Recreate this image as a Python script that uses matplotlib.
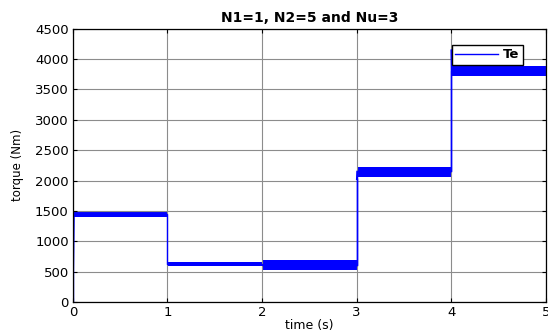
import numpy as np
import matplotlib
matplotlib.use('Agg')
import matplotlib.pyplot as plt

# Electromagnetic torque Te for a sequence of load steps
#------------------------------------------------------------------------------
seg_start = [0.0, 1.0, 2.0, 3.0, 4.0]
seg_end   = [1.0, 2.0, 3.0, 4.0, 5.0]
te_level  = [1450, 620, 605, 2150, 3810]     # mean torque on each step (Nm)
te_low    = [1405, 590, 525, 2060, 3720]     # lower edge of the ripple band
te_high   = [1480, 650, 690, 2230, 3890]     # upper edge of the ripple band

# transients at the switching instants (time, torque)
trans_t  = [0.0, 0.0, 0.012, 3.0, 3.004, 4.0, 4.004]
trans_te = [0, 0, 1420, 2020, 2150, 4150, 3810]
#------------------------------------------------------------------------------

plt.rcParams['font.family'] = ['DejaVu Sans']
fig = plt.figure(figsize=(5.48, 3.31), dpi=100)
ax = fig.add_axes([0.133, 0.088, 0.863, 0.825])

blue = (0, 0, 1)

# step trace through the mean levels
t_line = []
v_line = []
for i in range(len(seg_start)):
    t_line += [seg_start[i], seg_end[i]]
    v_line += [te_level[i], te_level[i]]
t_line = [trans_t[0]] + t_line
v_line = [trans_te[0]] + v_line
ax.plot(t_line, v_line, color=blue, lw=1.0, label='Te')

# ripple band on each step
for i in range(len(seg_start)):
    ax.fill_between([seg_start[i] + 0.01, seg_end[i]], te_low[i], te_high[i],
                    color=blue, lw=0)

# switching spikes
ax.plot(trans_t[0:3], trans_te[0:3], color=blue, lw=1.0)
ax.plot([trans_t[3], trans_t[3]], [te_level[2], trans_te[3]], color=blue, lw=1.0)
ax.plot(trans_t[3:5], trans_te[3:5], color=blue, lw=1.0)
ax.plot([trans_t[5], trans_t[5]], [te_level[3], trans_te[5]], color=blue, lw=1.0)
ax.plot(trans_t[5:7], trans_te[5:7], color=blue, lw=1.0)

#plot properties
ax.set_xlim(0, 5)
ax.set_ylim(0, 4500)
ax.set_xticks(np.arange(0, 6, 1))
ax.set_yticks(np.arange(0, 5000, 500))
ax.grid(True, color='#8c8c8c', lw=0.8)
ax.tick_params(direction='in', top=True, right=True, labelsize=9.5, length=3,
               pad=3)
for s in ax.spines.values():
    s.set_linewidth(0.9)
ax.set_xlabel('time (s)', fontsize=9, labelpad=0)
ax.set_ylabel('torque (Nm)', fontsize=8.5, labelpad=8)
ax.set_title('N1=1, N2=5 and Nu=3', fontsize=10, fontweight='bold', pad=5)

leg = ax.legend(loc='upper right', bbox_to_anchor=(0.951, 0.941), fancybox=False,
                edgecolor='black', framealpha=1, borderpad=0.25,
                handlelength=3.2, handletextpad=0.4, borderaxespad=0,
                prop={'weight': 'bold', 'size': 9.5})
leg.get_frame().set_linewidth(1.0)

fig.savefig('out.png', dpi=100)
